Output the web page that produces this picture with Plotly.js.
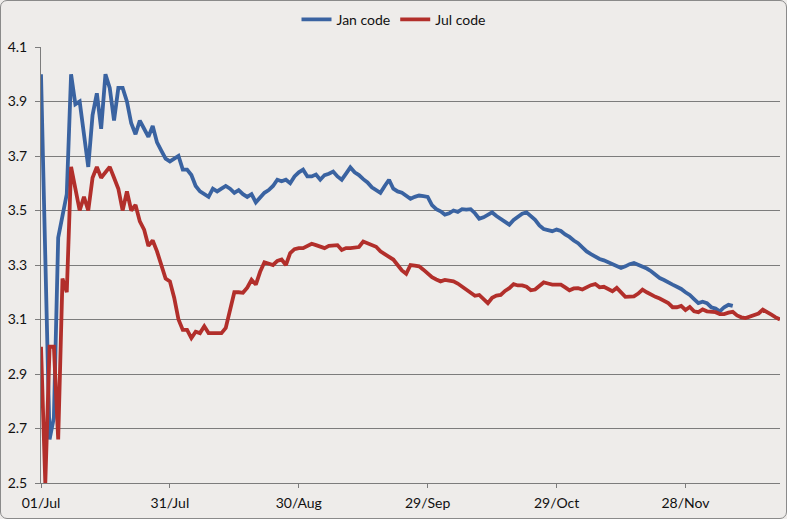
<!DOCTYPE html>
<html>
<head>
<meta charset="utf-8">
<script src="https://cdn.plot.ly/plotly-3.0.1.min.js"></script>
<style>
  html, body { margin: 0; padding: 0; background: #eeecea; }
  #wrap { position: relative; width: 787px; height: 519px; }
  #graph { width: 787px; height: 519px; }
  #frame {
    position: absolute; left: 0; top: 0; width: 785px; height: 517px;
    border: 1px solid #8a8a8a; border-radius: 7px; pointer-events: none;
  }
</style>
</head>
<body>
<div id="wrap">
  <div id="graph"></div>
  <div id="frame"></div>
</div>
<script>
// daily readings starting 01/Jul
const startDate = "2014-07-01";

const janCode = [
    4.00, 3.33, 2.66, 2.74, 3.40, 3.48, 3.56, 4.00, 3.89, 3.90,
    3.79, 3.66, 3.85, 3.93, 3.80, 4.00, 3.95, 3.83, 3.95, 3.95,
    3.90, 3.82, 3.78, 3.83, 3.80, 3.77, 3.81, 3.75, 3.72, 3.69,
    3.68, 3.69, 3.70, 3.65, 3.65, 3.63, 3.59, 3.57, 3.56, 3.55,
    3.58, 3.57, 3.58, 3.59, 3.58, 3.565, 3.575, 3.56, 3.55, 3.56,
    3.53, 3.55, 3.565, 3.575, 3.59, 3.613, 3.607, 3.613, 3.60, 3.625,
    3.64, 3.65, 3.625, 3.625, 3.632, 3.613, 3.63, 3.635, 3.643, 3.625,
    3.613, 3.635, 3.658, 3.64, 3.63, 3.615, 3.603, 3.585, 3.576, 3.565,
    3.59, 3.613, 3.58, 3.57, 3.565, 3.555, 3.543, 3.55, 3.555, 3.553,
    3.55, 3.52, 3.505, 3.497, 3.485, 3.49, 3.50, 3.495, 3.505, 3.503,
    3.505, 3.49, 3.47, 3.475, 3.485, 3.493, 3.48, 3.468, 3.458, 3.448,
    3.465, 3.477, 3.488, 3.493, 3.48, 3.466, 3.445, 3.432, 3.428, 3.424,
    3.43, 3.425, 3.412, 3.403, 3.39, 3.38, 3.365, 3.35, 3.34, 3.33,
    3.322, 3.317, 3.31, 3.30, 3.295, 3.289, 3.295, 3.303, 3.307, 3.30,
    3.295, 3.287, 3.277, 3.265, 3.252, 3.245, 3.235, 3.228, 3.22, 3.212,
    3.20, 3.19, 3.175, 3.16, 3.165, 3.16, 3.145, 3.14, 3.13, 3.145,
    3.154, 3.15
];

const julCode = [
    3.00, 2.50, 3.00, 3.00, 2.66, 3.25, 3.20, 3.66, 3.58, 3.50,
    3.55, 3.50, 3.62, 3.66, 3.62, 3.64, 3.66, 3.62, 3.58, 3.50,
    3.57, 3.50, 3.52, 3.46, 3.43, 3.37, 3.39, 3.35, 3.30, 3.25,
    3.24, 3.18, 3.10, 3.062, 3.062, 3.032, 3.055, 3.05, 3.075, 3.05,
    3.05, 3.05, 3.05, 3.069, 3.13, 3.20, 3.20, 3.198, 3.217, 3.246,
    3.228, 3.275, 3.31, 3.305, 3.30, 3.315, 3.32, 3.30, 3.344, 3.358,
    3.362, 3.362, 3.37, 3.378, 3.373, 3.368, 3.362, 3.37, 3.37, 3.373,
    3.355, 3.362, 3.362, 3.365, 3.366, 3.386, 3.38, 3.375, 3.367, 3.35,
    3.34, 3.33, 3.32, 3.30, 3.28, 3.268, 3.30, 3.298, 3.295, 3.283,
    3.27, 3.255, 3.247, 3.24, 3.245, 3.242, 3.24, 3.232, 3.22, 3.208,
    3.197, 3.187, 3.19, 3.175, 3.16, 3.18, 3.188, 3.19, 3.205, 3.215,
    3.23, 3.225, 3.225, 3.22, 3.207, 3.21, 3.222, 3.236, 3.232, 3.228,
    3.228, 3.228, 3.218, 3.207, 3.214, 3.215, 3.21, 3.22, 3.226, 3.23,
    3.218, 3.22, 3.21, 3.204, 3.216, 3.20, 3.183, 3.184, 3.185, 3.195,
    3.21, 3.20, 3.19, 3.183, 3.177, 3.168, 3.16, 3.145, 3.145, 3.15,
    3.135, 3.146, 3.13, 3.127, 3.137, 3.13, 3.128, 3.127, 3.12, 3.12,
    3.125, 3.128, 3.115, 3.108, 3.105, 3.11, 3.115, 3.122, 3.136, 3.125,
    3.118, 3.108, 3.10
];

const tickDates = ["2014-07-01", "2014-07-31", "2014-08-30", "2014-09-29", "2014-10-29", "2014-11-28"];
const tickLabels = ["01/Jul", "31/Jul", "30/Aug", "29/Sep", "29/Oct", "28/Nov"];
const endDate = "2014-12-20";

function dayList(n) {
    const out = [];
    const t0 = new Date(startDate + "T00:00:00Z").getTime();
    for (let i = 0; i < n; i++) {
        out.push(new Date(t0 + i * 86400000).toISOString().slice(0, 10));
    }
    return out;
}

const gridColor = "#7c7c7c";

const traces = [
    {
        name: "Jan code",
        x: dayList(janCode.length),
        y: janCode,
        mode: "lines",
        line: { color: "#3a63a1", width: 3.8 }
    },
    {
        name: "Jul code",
        x: dayList(julCode.length),
        y: julCode,
        mode: "lines",
        line: { color: "#b22f2b", width: 3.8 }
    }
];

const layout = {
    width: 787,
    height: 519,
    margin: { l: 41, r: 7, t: 47, b: 36, autoexpand: false },
    paper_bgcolor: "#eeecea",
    plot_bgcolor: "#eeecea",
    font: { family: "Lato, 'Open Sans', sans-serif", size: 14, color: "#111" },
    showlegend: true,
    legend: {
        orientation: "h",
        xref: "container",
        yref: "container",
        x: 0.5, xanchor: "center",
        y: 0.962, yanchor: "middle",
        font: { size: 14, color: "#111" },
        itemwidth: 30,
        bgcolor: "rgba(0,0,0,0)"
    },
    xaxis: {
        type: "date",
        range: [startDate, endDate],
        tickvals: tickDates,
        ticktext: tickLabels,
        showgrid: false,
        zeroline: false,
        showline: true,
        linecolor: gridColor,
        linewidth: 1,
        ticks: "outside",
        ticklen: 4,
        tickcolor: gridColor,
        ticklabelstandoff: 3,
        tickfont: { size: 14 }
    },
    yaxis: {
        range: [2.5, 4.1],
        tick0: 2.5,
        dtick: 0.2,
        tickformat: ".1f",
        showgrid: true,
        gridcolor: gridColor,
        gridwidth: 1,
        zeroline: false,
        showline: true,
        linecolor: gridColor,
        linewidth: 1,
        ticks: "outside",
        ticklen: 5,
        tickcolor: gridColor,
        ticklabelstandoff: 5,
        tickfont: { size: 14 }
    },
    hovermode: false
};

const config = {
    displayModeBar: false,
    staticPlot: true
};

Plotly.newPlot("graph", traces, layout, config);
</script>
</body>
</html>
